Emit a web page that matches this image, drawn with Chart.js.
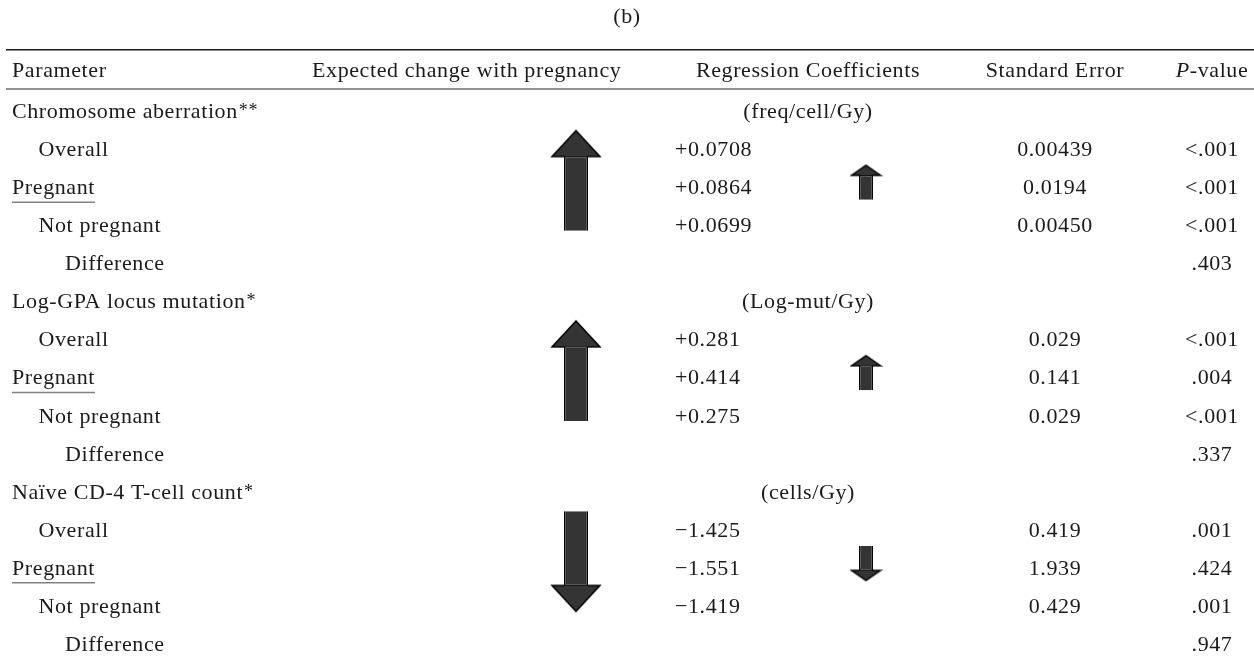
<!DOCTYPE html>
<html lang="en">
<head>
<meta charset="UTF-8">
<title>(b) Regression coefficients and expected change with pregnancy</title>
<script src="https://cdn.jsdelivr.net/npm/chart.js"></script>
<style>
  body { margin: 0; background: #ffffff; }
  .wrap { width: 1254px; height: 656px; position: relative; }
</style>
</head>
<body>
<div class="wrap"><canvas id="table"></canvas></div>
<script>
// ---- table content ----
const panelLabel = '(b)';
const headers = ['Parameter', 'Expected change with pregnancy', 'Regression Coefficients', 'Standard Error', 'P-value'];
const parameters = ['Chromosome aberration**', 'Log-GPA locus mutation*', 'Na\u00efve CD-4 T-cell count*'];
const units = ['(freq/cell/Gy)', '(Log-mut/Gy)', '(cells/Gy)'];
const subRows = ['Overall', 'Pregnant', 'Not pregnant', 'Difference'];
const subIndent = [1, 0, 1, 2];
const expectedChange = [1, 1, -1];   // big arrow: expected direction with pregnancy
const pregnantChange = [1, 1, -1];   // small arrow: observed direction for pregnant women
const coefficients = [
  ['+0.0708', '+0.0864', '+0.0699', ''],
  ['+0.281', '+0.414', '+0.275', ''],
  ['\u22121.425', '\u22121.551', '\u22121.419', '']
];
const standardErrors = [
  ['0.00439', '0.0194', '0.00450', ''],
  ['0.029', '0.141', '0.029', ''],
  ['0.419', '1.939', '0.429', '']
];
const pValues = [
  ['<.001', '<.001', '<.001', '.403'],
  ['<.001', '.004', '<.001', '.337'],
  ['.001', '.424', '.001', '.947']
];

// ---- layout / style ----
const ROWS_PER_GROUP = 5;
const ROW_PX = 38.07;
const FIRST_BASELINE = 118;
const COL = { param: 12, indent: 26.5, expected: 312, arrow: 576, coef: 675, coefMid: 808, smallArrow: 866, se: 1055, p: 1212 };
const ROW = { label: -2.5, ruleTop: -1.79, header: -1.07, ruleHead: -0.76 };
const INK = '#1c1a1b';
const ARROW_FILL = '#333433';
const FONT = '"Liberation Serif", "Times New Roman", serif';
const BIG = { head: 0.68, headPx: 26, headW: 48, shaft: 24 };
const SMALL = { head: 0.27, headPx: 10, headW: 29, shaft: 14 };

function rowOf(g, s) { return g * ROWS_PER_GROUP + s + 1; }

function arrowHead(w, h, shaft, up) {
  const c = document.createElement('canvas');
  const pad = 2;
  c.width = w + pad * 2;
  c.height = h + pad * 2;
  const g = c.getContext('2d');
  g.translate(pad, pad);
  if (!up) { g.translate(0, h); g.scale(1, -1); }
  g.beginPath();
  g.moveTo(w / 2, 0); g.lineTo(w, h); g.lineTo(0, h); g.closePath();
  g.fillStyle = ARROW_FILL;
  g.fill();
  g.beginPath();
  g.moveTo((w - shaft) / 2 + 0.75, h);
  g.lineTo(0, h); g.lineTo(w / 2, 0); g.lineTo(w, h);
  g.lineTo((w + shaft) / 2 - 0.75, h);
  g.lineWidth = 1.5;
  g.strokeStyle = '#000';
  g.stroke();
  return c;
}

// build arrows (head + shaft) from the directions, in row units
function buildArrows(dirs, x, spec, span) {
  const heads = [], shafts = [], styles = [], skips = [];
  dirs.forEach((dir, g) => {
    const [top, bottom] = span(g);
    if (dir > 0) {
      heads.push({ x: x, y: top + spec.head / 2 });
      shafts.push({ x: x, y: [bottom, top + spec.head - 0.02] });
      skips.push('top');
    } else {
      heads.push({ x: x, y: bottom - spec.head / 2 });
      shafts.push({ x: x, y: [bottom - spec.head + 0.02, top] });
      skips.push('bottom');
    }
    styles.push(arrowHead(spec.headW, spec.headPx, spec.shaft, dir > 0));
  });
  return { heads, shafts, styles, skips };
}

const bigArrows = buildArrows(expectedChange, COL.arrow, BIG, g => [rowOf(g, 0) - 0.67, rowOf(g, 2) - 0.04]);
const smallArrows = buildArrows(pregnantChange, COL.smallArrow, SMALL, g => [rowOf(g, 1) - 0.76, rowOf(g, 1) + 0.15]);

// ---- text drawing ----
function drawText(ctx, str, x, y, align) {
  const m = str.match(/^(.*?)(\*+)$/);
  const main = m ? m[1] : str;
  const stars = m ? m[2] : '';
  ctx.font = '22px ' + FONT;
  const w = ctx.measureText(main).width;
  let left = align === 'center' ? x - w / 2 : x;
  ctx.textAlign = 'left';
  ctx.fillText(main, left, y);
  if (stars) {
    ctx.font = '18px ' + FONT;
    ctx.fillText(stars, left + w + 1, y - 2);
  }
  return { left, width: w };
}

const tableText = {
  id: 'tableText',
  afterDraw(chart) {
    const ctx = chart.ctx;
    const xs = chart.scales.x, ys = chart.scales.y;
    const X = v => xs.getPixelForValue(v);
    const Y = v => ys.getPixelForValue(v);
    ctx.save();
    ctx.fillStyle = INK;
    ctx.textBaseline = 'alphabetic';
    ctx.letterSpacing = '0.6px';

    // rules
    ctx.lineWidth = 1.5;
    ctx.strokeStyle = INK;
    ctx.beginPath(); ctx.moveTo(X(6), Y(ROW.ruleTop)); ctx.lineTo(X(1254), Y(ROW.ruleTop)); ctx.stroke();
    ctx.strokeStyle = '#6d6e70';
    ctx.beginPath(); ctx.moveTo(X(6), Y(ROW.ruleHead)); ctx.lineTo(X(1254), Y(ROW.ruleHead)); ctx.stroke();

    drawText(ctx, panelLabel, X(627), Y(ROW.label), 'center');

    // header row
    const hy = Y(ROW.header);
    drawText(ctx, headers[0], X(COL.param), hy, 'left');
    drawText(ctx, headers[1], X(COL.expected), hy, 'left');
    drawText(ctx, headers[2], X(COL.coefMid), hy, 'center');
    drawText(ctx, headers[3], X(COL.se), hy, 'center');
    // P-value with italic P
    ctx.font = 'italic 22px ' + FONT;
    const pw = ctx.measureText('P').width;
    ctx.font = '22px ' + FONT;
    const rest = headers[4].slice(1);
    const rw = ctx.measureText(rest).width;
    const pl = X(COL.p) - (pw + rw) / 2;
    ctx.font = 'italic 22px ' + FONT;
    ctx.fillText('P', pl, hy);
    ctx.font = '22px ' + FONT;
    ctx.fillText(rest, pl + pw, hy);

    parameters.forEach((name, g) => {
      const gy = Y(g * ROWS_PER_GROUP);
      drawText(ctx, name, X(COL.param), gy, 'left');
      drawText(ctx, units[g], X(COL.coefMid), gy, 'center');
      subRows.forEach((label, s) => {
        const y = Y(rowOf(g, s));
        const t = drawText(ctx, label, X(COL.param + subIndent[s] * COL.indent), y, 'left');
        if (label === 'Pregnant') {
          ctx.strokeStyle = '#808285';
          ctx.lineWidth = 1.5;
          ctx.beginPath(); ctx.moveTo(t.left, y + 8); ctx.lineTo(t.left + t.width, y + 8); ctx.stroke();
        }
        if (coefficients[g][s]) drawText(ctx, coefficients[g][s], X(COL.coef), y, 'left');
        if (standardErrors[g][s]) drawText(ctx, standardErrors[g][s], X(COL.se), y, 'center');
        if (pValues[g][s]) drawText(ctx, pValues[g][s], X(COL.p), y, 'center');
      });
    });
    ctx.restore();
  }
};

const yMin = -FIRST_BASELINE / ROW_PX;
const yMax = yMin + 656 / ROW_PX;

new Chart(document.getElementById('table'), {
  type: 'bar',
  data: {
    datasets: [
      {
        type: 'scatter', data: bigArrows.heads, pointStyle: bigArrows.styles,
        pointRadius: 10, pointHoverRadius: 10, pointRotation: 0, clip: false
      },
      {
        type: 'scatter', data: smallArrows.heads, pointStyle: smallArrows.styles,
        pointRadius: 10, pointHoverRadius: 10, pointRotation: 0, clip: false
      },
      {
        type: 'bar', data: bigArrows.shafts, barThickness: BIG.shaft, grouped: false,
        backgroundColor: ARROW_FILL, borderColor: '#000', borderWidth: 1.5,
        borderSkipped: c => bigArrows.skips[c.dataIndex], inflateAmount: 0
      },
      {
        type: 'bar', data: smallArrows.shafts, barThickness: SMALL.shaft, grouped: false,
        backgroundColor: ARROW_FILL, borderColor: '#000', borderWidth: 1.5,
        borderSkipped: c => smallArrows.skips[c.dataIndex], inflateAmount: 0
      }
    ]
  },
  options: {
    responsive: true,
    maintainAspectRatio: false,
    animation: false,
    events: [],
    layout: { padding: 0, autoPadding: false },
    plugins: { legend: { display: false }, tooltip: { enabled: false } },
    scales: {
      x: { type: 'linear', min: 0, max: 1254, offset: false, display: false },
      y: { type: 'linear', reverse: true, min: yMin, max: yMax, display: false }
    }
  },
  plugins: [tableText]
});
</script>
</body>
</html>
